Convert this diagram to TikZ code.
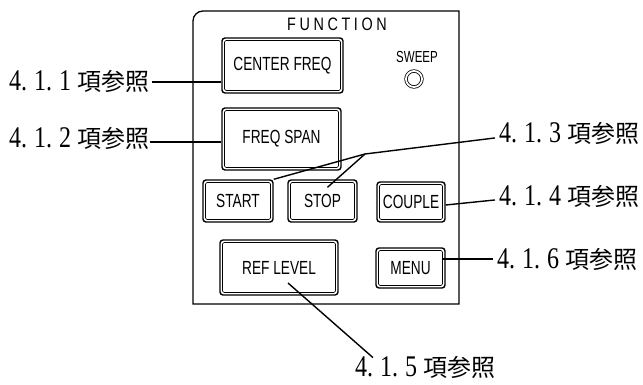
\documentclass[tikz,border=0pt]{standalone}
\usepackage{fontspec}
\newfontfamily\jpfont{Noto Sans CJK JP}
\newfontfamily\digfont[FakeStretch=0.8]{Liberation Serif}
\newfontfamily\btnfont[FakeStretch=0.72]{Liberation Sans}
\newfontfamily\hdfont[FakeStretch=0.8,LetterSpace=20]{Liberation Sans}
\newcommand\reflabel[3]{{\digfont\fontsize{30}{30}\selectfont #1.\hspace{7pt}#2.\hspace{7pt}#3}\hspace{6pt}{\jpfont\fontsize{24}{24}\selectfont 項参照}}
\begin{document}
\begin{tikzpicture}[x=1pt,y=-1pt,
  btn/.style={draw, line width=1.4pt, rounded corners=3pt, inner sep=0pt,
    font=\btnfont\fontsize{19}{19}\selectfont},
  innerline/.style={line width=0.6pt, rounded corners=1.5pt},
  lead/.style={line width=1.4pt},
  lbl/.style={inner sep=0pt, anchor=base west},
  panel/.style={line width=1.3pt}]
\useasboundingbox (0,0) rectangle (643,385);
% panel
\draw[panel] (193,304) -- (193,21) arc[start angle=180, end angle=90, radius=10pt] -- (459,11) -- (459,304) -- cycle;
\node[inner sep=0pt, font=\hdfont\fontsize{18}{18}\selectfont] (fn) at (337,24) {FUNCTION};
\node[inner sep=0pt, font=\btnfont\fontsize{16}{16}\selectfont] (sweep) at (417,57) {SWEEP};
\node[circle, draw, line width=0.8pt, double distance=1.8pt, minimum size=16pt, inner sep=0pt] (ring) at (414,79) {};
% buttons
\node[btn, minimum width=121pt, minimum height=55pt] (cf) at (282.5,65.5) {CENTER FREQ};
\node[btn, minimum width=119pt, minimum height=62pt] (fs) at (281.5,139) {FREQ SPAN};
\node[btn, minimum width=70pt, minimum height=42pt] (start) at (238,201) {START};
\node[btn, minimum width=69pt, minimum height=42pt] (stop) at (322.5,201) {STOP};
\node[btn, minimum width=68pt, minimum height=40pt] (couple) at (411,202) {COUPLE};
\node[btn, minimum width=118pt, minimum height=55pt] (ref) at (279,267.5) {REF LEVEL};
\node[btn, minimum width=69pt, minimum height=40pt] (menu) at (410.5,268) {MENU};
\foreach \n in {cf,fs,start,stop,couple,ref,menu}
  \draw[innerline] ([shift={(3.2pt,-3.2pt)}]\n.north west) rectangle ([shift={(-3.2pt,3.2pt)}]\n.south east);
% labels
\node[lbl] (t1) at (9,91) {\reflabel{4}{1}{1}};
\node[lbl] (t2) at (9,148) {\reflabel{4}{1}{2}};
\node[lbl] (t3) at (499,143) {\reflabel{4}{1}{3}};
\node[lbl] (t4) at (499,205) {\reflabel{4}{1}{4}};
\node[lbl] (t6) at (497,268) {\reflabel{4}{1}{6}};
\node[lbl] (t5) at (355,376) {\reflabel{4}{1}{5}};
% leaders
\draw[lead] ([xshift=3pt]t1.east) -- (t1.east -| cf.west);
\draw[lead] ([xshift=1pt,yshift=-3pt]t2.east) -- ([yshift=-3pt]t2.east -| fs.west);
\coordinate (j3) at (365,154);
\coordinate (stopin) at ([xshift=5pt,yshift=-8pt]stop.north);
\draw[lead] ([xshift=-4pt,yshift=-4pt]t3.west) -- (j3) -- (start.north east);
\draw[lead] (j3) -- (stopin);
\draw[lead] ([xshift=-4pt,yshift=-4pt]t4.west) -- ([yshift=-3pt]couple.east);
\draw[lead] ([xshift=-4pt]t6.west) -- ([xshift=-4pt]t6.west -| menu.east);
\coordinate (refin) at ([xshift=9pt,yshift=-15.5pt]ref.center);
\draw[lead] ([xshift=18pt,yshift=-2pt]t5.north west) -- (refin);
\end{tikzpicture}
\end{document}
